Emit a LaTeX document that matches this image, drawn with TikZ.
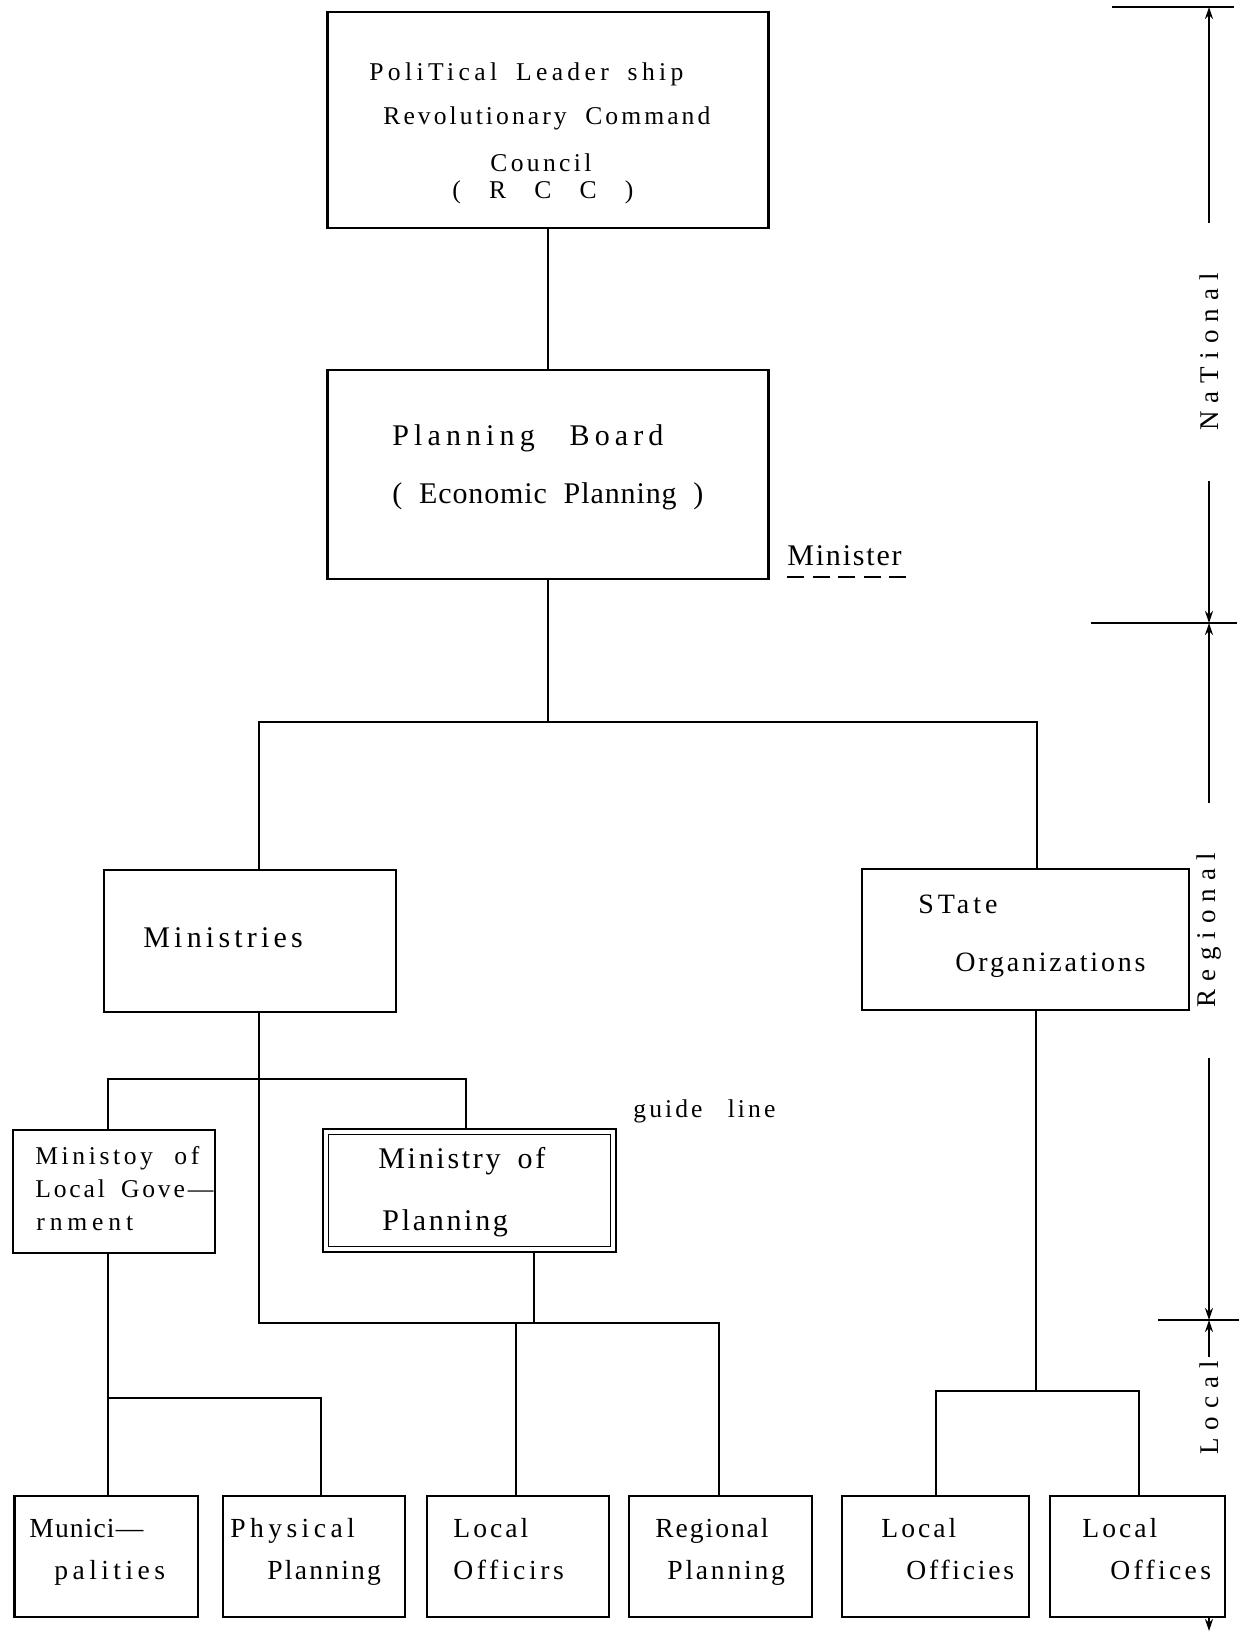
\documentclass[tikz,border=0pt]{standalone}
\usepackage{fontspec}
\setmainfont{Liberation Serif}[Ligatures={TeX,NoCommon}]
\usepackage{tikz}
\usetikzlibrary{arrows.meta}
\newcommand\lblfont[2]{\fontsize{#1pt}{#1pt}\selectfont\addfontfeatures{LetterSpace=#2}}

\begin{document}
\begin{tikzpicture}[x=0.5pt,y=-0.5pt]
\tikzset{
box/.style={rectangle, draw, line width=1.2pt, fill=white, inner sep=0pt},
lowbox/.style={box, minimum height=60.5pt},
link/.style={line width=1pt},
txt/.style 2 args={anchor=base west, inner sep=0pt, font=\lblfont{#1}{#2}},
axtxt/.style={rotate=90, inner ysep=0pt, inner xsep=25pt, font=\lblfont{13.5}{30}},
dimline/.style={line width=0.8pt, -{Stealth[length=6pt,width=4pt]}},
tickline/.style={line width=0.6pt}
}
\useasboundingbox (0,0) rectangle (1239,1633);

\node[box, minimum width=220.5pt, minimum height=108pt] (rcc) at (548,120) {};
\node[box, minimum width=220.5pt, minimum height=104.5pt] (pb) at (548,474.5) {};
\node[box, minimum width=146pt, minimum height=71pt] (mins) at (250,941) {};
\node[box, minimum width=163.5pt, minimum height=70.5pt] (state) at (1025.5,939.5) {};
\node[box, minimum width=101pt, minimum height=61.5pt] (mlg) at (114,1191.5) {};
\node[box, double, line width=0.8pt, double distance=2pt, outer sep=1.8pt,
  minimum width=143.9pt, minimum height=58.9pt] (mop) at (469.5,1190.5) {};
\node[lowbox, minimum width=91.75pt] (mun) at (106.25,1556.5) {};
\node[lowbox, minimum width=91pt] (phys) at (314,1556.5) {};
\node[lowbox, minimum width=91pt] (loff) at (518,1556.5) {};
\node[lowbox, minimum width=91.5pt] (reg) at (720.5,1556.5) {};
\node[lowbox, minimum width=93.5pt] (lofc) at (935.5,1556.5) {};
\node[lowbox, minimum width=87.5pt] (lofs) at (1137.5,1556.5) {};

\node[txt={12.8}{17}] (rcc1) at (369,80) {\makebox[157pt][s]{PoliTical Leader ship}};
\node[txt={12.8}{12}] (rcc2) at (383,124) {\makebox[163.5pt][s]{Revolutionary Command}};
\node[txt={12.8}{13}] (rcc3) at (490,171) {Council};
\node[txt={12.8}{0}] (rcc4) at (452,198) {(\hspace{1.1em}R\hspace{1.1em}C\hspace{1.1em}C\hspace{1.1em})};
\node[txt={15}{17}] (pb1) at (392,445) {\makebox[135.5pt][s]{Planning Board}};
\node[txt={15}{3}] (pb2) at (392,503) {\makebox[155.5pt][s]{( Economic Planning )}};
\node[txt={15}{6}] (minister) at (787,565) {Minister};
\node[txt={15}{14}] (mins1) at (143,947) {Ministries};
\node[txt={14}{14}] (state1) at (918,913) {STate};
\node[txt={14}{10}] (state2) at (955,971) {Organizations};
\node[txt={12.8}{14}] (mlg1) at (35,1164) {\makebox[82pt][s]{Ministoy of}};
\node[txt={12.8}{11}] (mlg2) at (35,1197) {\makebox[89pt][s]{Local Gove\textemdash}};
\node[txt={12.8}{19}] (mlg3) at (36,1230) {rnment};
\node[txt={15}{9}] (mop1) at (378,1168) {\makebox[83.5pt][s]{Ministry of}};
\node[txt={15}{9}] (mop2) at (382,1230) {Planning};
\node[txt={12.8}{12}] (guide) at (633,1117) {\makebox[71pt][s]{guide line}};
\node[txt={13.8}{4}] (mun1) at (29,1537) {Munici\textemdash};
\node[txt={13.8}{16}] (mun2) at (54,1579) {palities};
\node[txt={13.8}{16}] (phys1) at (230,1537) {Physical};
\node[txt={13.8}{8}] (phys2) at (267,1579) {Planning};
\node[txt={13.8}{11}] (loff1) at (453,1537) {Local};
\node[txt={13.8}{13}] (loff2) at (453,1579) {Officirs};
\node[txt={13.8}{7}] (reg1) at (655,1537) {Regional};
\node[txt={13.8}{10}] (reg2) at (667,1579) {Planning};
\node[txt={13.8}{11}] (lofc1) at (881,1537) {Local};
\node[txt={13.8}{10}] (lofc2) at (906,1579) {Officies};
\node[txt={13.8}{11}] (lofs1) at (1082,1537) {Local};
\node[txt={13.8}{12}] (lofs2) at (1110,1579) {Offices};

\draw[line width=1pt, dash pattern=on 8.5pt off 4.3pt]
  ([yshift=-5.5pt]minister.south west) -- ([yshift=-5.5pt,xshift=6pt]minister.south east);

\coordinate (j1) at (548,722);
\coordinate (j1l) at (259,722);
\coordinate (j1r) at (1037,722);
\coordinate (j2l) at (108,1079);
\coordinate (j2r) at (466,1079);
\coordinate (j3l) at (259,1323);
\coordinate (j3o) at (516,1323);
\coordinate (j3m) at (534,1323);
\coordinate (j3r) at (719,1323);
\coordinate (j4l) at (108,1398);
\coordinate (j4r) at (321,1398);
\coordinate (j5l) at (936,1391);
\coordinate (j5m) at (1036,1391);
\coordinate (j5r) at (1139,1391);

\draw[link] (rcc) -- (pb);
\draw[link] (pb) -- (j1);
\draw[link] (j1l |- mins.north) -- (j1l) -- (j1r) -- (j1r |- state.north);
\draw[link] (mins.south -| j3l) -- (j3l) -- (j3r) -- (j3r |- reg.north);
\draw[link] (j2l |- mlg.north) -- (j2l) -- (j2r) -- (j2r |- mop.north);
\draw[link] (mop.south -| j3m) -- (j3m);
\draw[link] (j3o) -- (j3o |- loff.north);
\draw[link] (mlg.south -| j4l) -- (j4l |- mun.north);
\draw[link] (j4l) -- (j4r) -- (j4r |- phys.north);
\draw[link] (state.south -| j5m) -- (j5m);
\draw[link] (j5l |- lofc.north) -- (j5l) -- (j5r) -- (j5r |- lofs.north);

\coordinate (ax0) at (1209,7);
\coordinate (ax1) at (1209,623);
\coordinate (ax2) at (1209,1320);
\coordinate (axend) at (1209,1631);
\node[axtxt] (nat) at (1209,352) {NaTional};
\node[axtxt] (lblreg) at (1209,930) {Regional};
\node[axtxt, inner xsep=2pt] (lblloc) at (1209,1408) {Local};

\draw[tickline] (ax0) ++(-97,0) -- ++(122,0);
\draw[tickline] (ax1) ++(-118,0) -- ++(146,0);
\draw[tickline] (ax2) ++(-51,0) -- ++(81,0);
\draw[dimline] (nat.east) -- (ax0);
\draw[dimline] (nat.west) -- (ax1);
\draw[dimline] (lblreg.east) -- (ax1);
\draw[dimline] (lblreg.west) -- (ax2);
\draw[dimline] (lblloc.east) -- (ax2);
\draw[dimline] (lofs.south -| axend) -- (axend);

\end{tikzpicture}
\end{document}
